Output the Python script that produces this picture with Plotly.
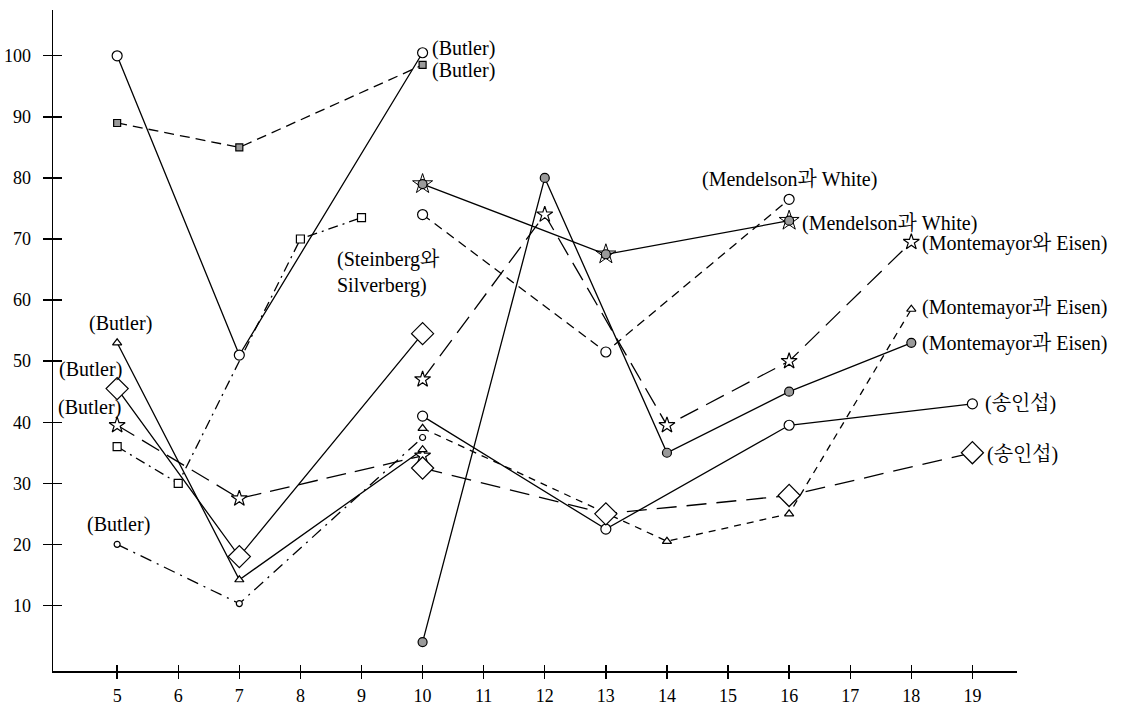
import plotly.graph_objects as go

# ---------------- data ----------------
x_ticks = list(range(5, 20))
y_ticks = list(range(10, 101, 10))

butler_circle_x = [5, 7, 10]
butler_circle_y = [100, 51, 100.5]

butler_hsq_x = [5, 7, 10]
butler_hsq_y = [89, 85, 98.5]

steinberg_x = [5, 6, 8, 9]
steinberg_y = [36, 30, 70, 73.5]

butler_star_x = [5, 7, 10]
butler_star_y = [39.5, 27.5, 34.5]

butler_diamond_x = [5, 7, 10]
butler_diamond_y = [45.5, 18, 54.5]

butler_tri_x = [5, 7, 10]
butler_tri_y = [53, 14.2, 35.5]

butler_dot_x = [5, 7, 10]
butler_dot_y = [20, 10.3, 37.5]

mw_hcirc_x = [10, 13, 16]
mw_hcirc_y = [79, 67.5, 73]

mw_circ_x = [10, 13, 16]
mw_circ_y = [74, 51.5, 76.5]

me_star_x = [10, 12, 14, 16, 18]
me_star_y = [47, 74, 39.5, 50, 69.5]

me_tri_x = [10, 14, 16, 18]
me_tri_y = [39, 20.5, 25, 58.5]

me_hcirc_x = [10, 12, 14, 16, 18]
me_hcirc_y = [4, 80, 35, 45, 53]

song_circ_x = [10, 13, 16, 19]
song_circ_y = [41, 22.5, 39.5, 43]

song_diamond_x = [10, 13, 16, 19]
song_diamond_y = [32.5, 25, 28, 35]

lbl_butler = "(Butler)"
lbl_steinberg = "(Steinberg와<br>Silverberg)"
lbl_mw = "(Mendelson과 White)"
lbl_me_wa = "(Montemayor와 Eisen)"
lbl_me_gwa = "(Montemayor과 Eisen)"
lbl_song = "(송인섭)"

# ---------------- styling ----------------
INK = "black"
FONT = "Liberation Serif, Noto Serif CJK KR, Noto Sans CJK KR, serif"
GRAY = "#9a9a9a"

series = [
    # x, y, dash, symbol, size, fill
    (butler_circle_x, butler_circle_y, "solid", "circle", 10, "white"),
    (butler_hsq_x, butler_hsq_y, "10px,6px", "square", 7, GRAY),
    (steinberg_x, steinberg_y, "10px,5px,2px,5px", "square", 8, "white"),
    (butler_star_x, butler_star_y, "20px,9px", "star", 12, "white"),
    (butler_diamond_x, butler_diamond_y, "solid", "diamond", 17, "white"),
    (butler_tri_x, butler_tri_y, "solid", "triangle-up", 8, "white"),
    (butler_dot_x, butler_dot_y, "12px,6px,2px,6px", "circle", 6, "white"),
    (mw_hcirc_x, mw_hcirc_y, "solid", "circle", 9, GRAY),
    (mw_circ_x, mw_circ_y, "9px,6px", "circle", 10, "white"),
    (me_star_x, me_star_y, "20px,9px", "star", 12, "white"),
    (me_tri_x, me_tri_y, "7px,6px", "triangle-up", 8, "white"),
    (me_hcirc_x, me_hcirc_y, "solid", "circle", 9, GRAY),
    (song_circ_x, song_circ_y, "solid", "circle", 10, "white"),
    (song_diamond_x, song_diamond_y, "20px,10px", "diamond", 17, "white"),
]

fig = go.Figure()

# lines first
for xs, ys, dash, sym, size, fill in series:
    fig.add_trace(go.Scatter(x=xs, y=ys, mode="lines",
                             line=dict(color=INK, width=1.3, dash=dash),
                             hoverinfo="skip", showlegend=False))

# star rays behind the Mendelson/White hatched circles
fig.add_trace(go.Scatter(x=mw_hcirc_x, y=mw_hcirc_y, mode="markers",
                         marker=dict(symbol="star-open", size=15, color=INK,
                                     line=dict(color=INK, width=1)),
                         hoverinfo="skip", showlegend=False))

# markers on top
for xs, ys, dash, sym, size, fill in series:
    fig.add_trace(go.Scatter(x=xs, y=ys, mode="markers",
                             marker=dict(symbol=sym, size=size, color=fill,
                                         line=dict(color=INK, width=1.2)),
                             hoverinfo="skip", showlegend=False))

# overlay axes carrying the inward half of crossing ticks
fig.add_trace(go.Scatter(x=[x_ticks[0]], y=[y_ticks[0]], xaxis="x2", yaxis="y2",
                         mode="markers", marker=dict(opacity=0),
                         hoverinfo="skip", showlegend=False))

# ---------------- labels ----------------
ann = []
def lab(text, x, y, xanchor, xshift, yshift, align="left"):
    ann.append(dict(text=text, x=x, y=y, xref="x", yref="y", showarrow=False,
                    xanchor=xanchor, yanchor="middle", xshift=xshift, yshift=yshift,
                    align=align, font=dict(family=FONT, size=20, color=INK)))

lab(lbl_butler, butler_circle_x[-1], butler_circle_y[-1], "left", 7, 4)
lab(lbl_butler, butler_hsq_x[-1], butler_hsq_y[-1], "left", 7, -6)
lab(lbl_butler, butler_tri_x[0], butler_tri_y[0], "center", 3, 19)
lab(lbl_butler, butler_diamond_x[0], butler_diamond_y[0], "right", 7, 19)
lab(lbl_butler, butler_star_x[0], butler_star_y[0], "right", 6, 18)
lab(lbl_butler, butler_dot_x[0], butler_dot_y[0], "center", 1, 20)
lab(lbl_steinberg, steinberg_x[-1], steinberg_y[-1], "left", -27, -55)
lab(lbl_mw, mw_circ_x[-1], mw_circ_y[-1], "center", 0, 20)
lab(lbl_mw, mw_hcirc_x[-1], mw_hcirc_y[-1], "left", 11, -3)
lab(lbl_me_wa, me_star_x[-1], me_star_y[-1], "left", 9, -1)
lab(lbl_me_gwa, me_tri_x[-1], me_tri_y[-1], "left", 9, 2)
lab(lbl_me_gwa, me_hcirc_x[-1], me_hcirc_y[-1], "left", 9, -1)
lab(lbl_song, song_circ_x[-1], song_circ_y[-1], "left", 11, 0)
lab(lbl_song, song_diamond_x[-1], song_diamond_y[-1], "left", 13, -2)

XR = [3.95, 19.73]
YR = [-0.74, 107.5]
tickfont = dict(family=FONT, size=18, color=INK)

fig.update_layout(
    template="none",
    width=1128, height=706,
    margin=dict(l=53, r=111, t=10, b=35, pad=0, autoexpand=False),
    paper_bgcolor="white", plot_bgcolor="white",
    annotations=ann,
    xaxis=dict(range=XR, tickmode="array", tickvals=x_ticks, ticktext=[str(v) for v in x_ticks],
               showgrid=False, zeroline=False, showline=True, linecolor=INK, linewidth=1.5,
               ticks="outside", ticklen=6, tickwidth=1.3, tickcolor=INK, tickfont=tickfont,
               ticklabelstandoff=2, automargin=False, fixedrange=True),
    yaxis=dict(range=YR, tickmode="array", tickvals=y_ticks, ticktext=[str(v) for v in y_ticks],
               showgrid=False, zeroline=False, showline=True, linecolor=INK, linewidth=1.5,
               ticks="outside", ticklen=9, tickwidth=1.3, tickcolor=INK, tickfont=tickfont,
               ticklabelstandoff=8, automargin=False, fixedrange=True),
    xaxis2=dict(range=XR, overlaying="x", anchor="y2", side="bottom", tickmode="array",
                tickvals=x_ticks, showticklabels=False, showgrid=False, zeroline=False,
                showline=False, ticks="inside", ticklen=6, tickwidth=1.3, tickcolor=INK,
                automargin=False, fixedrange=True),
    yaxis2=dict(range=YR, overlaying="y", anchor="x2", side="left", tickmode="array",
                tickvals=y_ticks, showticklabels=False, showgrid=False, zeroline=False,
                showline=False, ticks="inside", ticklen=9, tickwidth=1.3, tickcolor=INK,
                automargin=False, fixedrange=True),
)

# remove the browser's default 8px body margin so the figure sits at the page origin
fig.write_html("out.html",
               config={"displayModeBar": False, "staticPlot": True},
               post_script="document.body.style.margin='0';document.body.style.overflow='hidden';")
